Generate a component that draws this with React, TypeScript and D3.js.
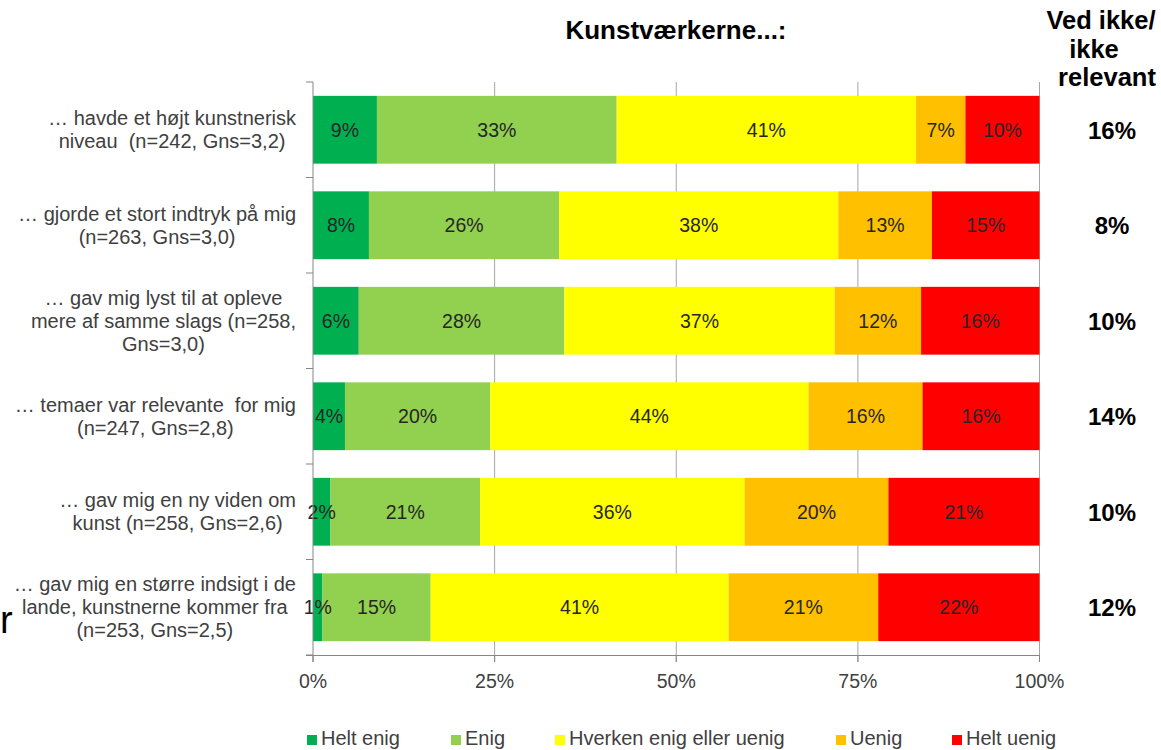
import React, { useEffect, useRef } from "react";
import * as d3 from "d3";

const categoryLines: string[][] = [
  ["… havde et højt kunstnerisk", "niveau  (n=242, Gns=3,2)"],
  ["… gjorde et stort indtryk på mig", "(n=263, Gns=3,0)"],
  ["… gav mig lyst til at opleve", "mere af samme slags (n=258,", "Gns=3,0)"],
  ["… temaer var relevante  for mig", "(n=247, Gns=2,8)"],
  ["… gav mig en ny viden om", "kunst (n=258, Gns=2,6)"],
  ["… gav mig en større indsigt i de", "lande, kunstnerne kommer fra", "(n=253, Gns=2,5)"],
];

const seriesNames = ["Helt enig", "Enig", "Hverken enig eller uenig", "Uenig", "Helt uenig"];
const seriesColors = ["#00B050", "#92D050", "#FFFF00", "#FFC000", "#FF0000"];

const heltEnig = [8.8, 7.7, 6.3, 4.4, 2.4, 1.3];
const enig = [33.0, 26.2, 28.3, 20.0, 20.6, 14.9];
const hverken = [41.2, 38.4, 37.2, 43.8, 36.4, 41.0];
const uenig = [6.8, 12.9, 11.9, 15.7, 19.8, 20.6];
const heltUenig = [10.2, 14.8, 16.3, 16.1, 20.8, 22.2];

const vedIkke = ["16%", "8%", "10%", "14%", "10%", "12%"];
const xTicks = [0, 25, 50, 75, 100];

const title = "Kunstværkerne...:";
const rightHeader = ["Ved ikke/", "ikke", "relevant"];

const W = 1161;
const H = 750;
const FONT = "'Liberation Sans', Arial, sans-serif";

export default function App() {
  const ref = useRef<SVGSVGElement | null>(null);

  useEffect(() => {
    const svg = d3.select(ref.current);
    svg.selectAll("*").remove();

    const ids = categoryLines.map((_, i) => "c" + i);
    const x = d3.scaleLinear().domain([0, 100]).range([313, 1039.5]);
    const y = d3.scaleBand<string>().domain(ids).range([82, 655]).paddingInner(0.29).paddingOuter(0.145);

    const series = [heltEnig, enig, hverken, uenig, heltUenig];
    const rows = ids.map((id, i) => {
      const r: any = { id };
      seriesNames.forEach((s, k) => (r[s] = series[k][i]));
      return r;
    });
    const stacked = d3.stack<any>().keys(seriesNames)(rows);

    // gridlines
    const grid = svg.append("g");
    xTicks.filter((t) => t > 0).forEach((t) => {
      grid.append("line")
        .attr("x1", x(t)).attr("x2", x(t))
        .attr("y1", 82).attr("y2", 662)
        .attr("stroke", "#a6a6a6").attr("stroke-width", 1);
    });

    // bars
    const bars = svg.append("g");
    stacked.forEach((layer, k) => {
      layer.forEach((d: any, i: number) => {
        const x0 = x(d[0]);
        const x1 = x(d[1]);
        bars.append("rect")
          .attr("x", x0).attr("y", y(ids[i])!)
          .attr("width", x1 - x0).attr("height", y.bandwidth())
          .attr("fill", seriesColors[k]);
      });
    });
    // bar labels
    stacked.forEach((layer, k) => {
      layer.forEach((d: any, i: number) => {
        const v = d[1] - d[0];
        bars.append("text")
          .attr("x", (x(d[0]) + x(d[1])) / 2)
          .attr("y", y(ids[i])! + y.bandwidth() / 2 + 7)
          .attr("text-anchor", "middle")
          .attr("font-family", FONT).attr("font-size", 19.5)
          .attr("fill", "#262626")
          .text(Math.round(v) + "%");
      });
    });

    // axes
    const ax = svg.append("g").attr("stroke", "#868686").attr("stroke-width", 1);
    ax.append("line").attr("x1", 306).attr("x2", x(100)).attr("y1", 655.5).attr("y2", 655.5);
    ax.append("line").attr("x1", x(0)).attr("x2", x(0)).attr("y1", 82).attr("y2", 662);
    xTicks.forEach((t) => {
      ax.append("line").attr("x1", x(t)).attr("x2", x(t)).attr("y1", 655).attr("y2", 662);
    });
    const step = y.step();
    for (let i = 0; i <= ids.length; i++) {
      const yy = 82 + i * step;
      ax.append("line").attr("x1", 306).attr("x2", x(0)).attr("y1", yy).attr("y2", yy);
    }

    // x tick labels
    xTicks.forEach((t) => {
      svg.append("text")
        .attr("x", x(t)).attr("y", 688)
        .attr("text-anchor", "middle")
        .attr("font-family", FONT).attr("font-size", 19.5)
        .attr("fill", "#404040")
        .text(t + "%");
    });

    // category labels: block right-aligned, lines centered
    const lh = 23;
    categoryLines.forEach((lines, i) => {
      const g = svg.append("g");
      const cy = y(ids[i])! + y.bandwidth() / 2;
      const texts = lines.map((l, j) =>
        g.append("text")
          .attr("font-family", FONT).attr("font-size", 20)
          .attr("fill", "#404040")
          .attr("text-anchor", "middle")
          .style("white-space", "pre")
          .attr("y", cy + (j - (lines.length - 1) / 2) * lh + 7)
          .text(l)
      );
      const widths = texts.map((t) => (t.node() as SVGTextElement).getComputedTextLength());
      const bw = Math.max(...widths);
      const cx = 296 - bw / 2;
      texts.forEach((t) => t.attr("x", cx));
    });

    // right column
    vedIkke.forEach((v, i) => {
      svg.append("text")
        .attr("x", 1112).attr("y", y(ids[i])! + y.bandwidth() / 2 + 9)
        .attr("text-anchor", "middle")
        .attr("font-family", FONT).attr("font-size", 24).attr("font-weight", "bold")
        .attr("fill", "#000")
        .text(v);
    });
    const hx = [1101, 1094, 1107];
    const hy = [29, 58, 86];
    rightHeader.forEach((l, j) => {
      svg.append("text")
        .attr("x", hx[j]).attr("y", hy[j])
        .attr("text-anchor", "middle")
        .attr("font-family", FONT).attr("font-size", 25.5).attr("font-weight", "bold")
        .attr("fill", "#000")
        .text(l);
    });

    // title
    svg.append("text")
      .attr("x", 676).attr("y", 39)
      .attr("text-anchor", "middle")
      .attr("font-family", FONT).attr("font-size", 26).attr("font-weight", "bold")
      .attr("fill", "#000")
      .text(title);

    // stray letter
    svg.append("text")
      .attr("x", 0).attr("y", 633)
      .attr("font-family", FONT).attr("font-size", 38)
      .attr("fill", "#000")
      .text("r");

    // legend
    const legX = [307, 451, 555, 836, 952];
    seriesNames.forEach((s, k) => {
      svg.append("rect")
        .attr("x", legX[k]).attr("y", 735).attr("width", 10).attr("height", 10)
        .attr("fill", seriesColors[k]);
      svg.append("text")
        .attr("x", legX[k] + 14).attr("y", 745)
        .attr("font-family", FONT).attr("font-size", 20)
        .attr("fill", "#404040")
        .text(s);
    });
  }, []);

  return (
    <svg
      ref={ref}
      width={W}
      height={H}
      style={{ position: "absolute", left: 0, top: 0, background: "#fff" }}
    />
  );
}
